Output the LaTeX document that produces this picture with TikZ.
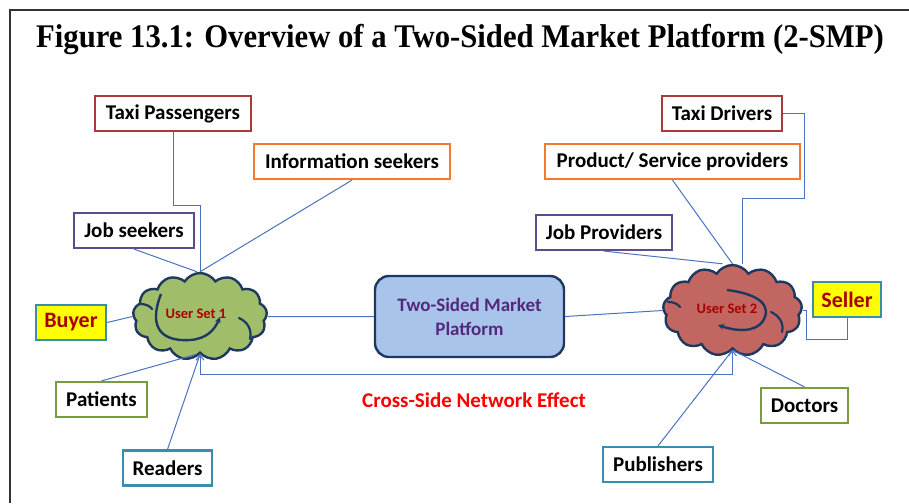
\documentclass[tikz,border=0pt]{standalone}
\usepackage{fontspec}
\setmainfont{Carlito}
\newfontfamily\titlefont{Liberation Serif}
\usetikzlibrary{shapes.symbols,arrows.meta,calc}
\definecolor{cred}{HTML}{A83A3A}
\definecolor{corange}{HTML}{F47A30}
\definecolor{cpurple}{HTML}{5F4A8C}
\definecolor{cteal}{HTML}{3A8DAE}
\definecolor{cgreen}{HTML}{7A9B3E}
\definecolor{cyel}{HTML}{FFFF00}
\definecolor{ctxtred}{HTML}{A80000}
\definecolor{cgreenfill}{HTML}{A0BE6A}
\definecolor{credfill}{HTML}{C26662}
\definecolor{cnavy}{HTML}{1F3860}
\definecolor{cplat}{HTML}{A8C4EA}
\definecolor{cplattxt}{HTML}{55287E}
\definecolor{cconn}{HTML}{4A72C0}
\tikzset{
  lbl/.style={draw=#1, line width=2.2pt, fill=white, minimum height=35pt, inner sep=0pt,
    font=\fontsize{21}{23}\selectfont\bfseries, text=black},
  conn/.style={draw=cconn, line width=1pt},
  cloudy/.style={cloud, cloud puffs=13, cloud puff arc=115, aspect=1.55, draw=cnavy,
    line width=2.4pt, fill=#1, inner sep=0pt},
  inarrow/.style={draw=cnavy, line width=2.4pt, -{Stealth[length=6pt,width=6pt]}},
  inarc/.style={draw=cnavy, line width=2.2pt, line cap=round},
  vtip/.style={{Straight Barb[length=5pt,width=8pt]}-{Straight Barb[length=5pt,width=8pt]}}
}
\begin{document}
\begin{tikzpicture}[x=1pt,y=-1pt]
\useasboundingbox (0,0) rectangle (909,503);
\draw[line width=2pt, black!80] (10,503) -- (10,10) -- (909,10);
\node[font=\titlefont\bfseries\fontsize{33}{36}\selectfont] (title) at (460,40)
  {\scalebox{0.93}[1]{Figure 13.1: Overview of a Two-Sided Market Platform (2-SMP)}};

\node[cloudy=cgreenfill, minimum width=134pt, minimum height=87pt] (c1) at (200,316.5) {};
\node[cloudy=credfill, minimum width=139pt, minimum height=91pt] (c2) at (732.5,310.5) {};
\node[rounded corners=14pt, draw=cnavy, line width=2.4pt, fill=cplat, minimum width=189pt,
  minimum height=81pt, align=center, text=cplattxt, font=\fontsize{19}{24}\selectfont\bfseries]
  (P) at (469.5,316.5) {Two-Sided Market\\Platform};

\node[lbl=cred, minimum width=156pt] (TP) at (173,113.5) {Taxi Passengers};
\node[lbl=corange, minimum width=196pt] (IS) at (352,161.5) {Information seekers};
\node[lbl=cpurple, minimum width=120pt] (JS) at (134,230.5) {Job seekers};
\node[lbl=cred, minimum width=120pt] (TD) at (722,113.5) {Taxi Drivers};
\node[lbl=corange, minimum width=255pt] (PS) at (672.5,161.5) {Product/ Service providers};
\node[lbl=cpurple, minimum width=136pt] (JP) at (604,232.5) {Job Providers};
\node[lbl=cteal, minimum width=70pt, fill=cyel, text=ctxtred, font=\fontsize{22}{24}\selectfont\bfseries] (BU) at (71,322.5) {Buyer};
\node[lbl=cgreen, minimum width=91pt] (PA) at (101.5,399.5) {Patients};
\node[lbl=cteal, minimum width=89pt] (RE) at (167.5,468) {Readers};
\node[lbl=cteal, minimum width=68pt, fill=cyel, text=ctxtred, font=\fontsize{22}{24}\selectfont\bfseries] (SE) at (847,299.5) {Seller};
\node[lbl=cgreen, minimum width=87pt] (DO) at (804.5,405.5) {Doctors};
\node[lbl=cteal, minimum width=110pt] (PU) at (658,464.5) {Publishers};

% inner cloud lines
\draw[inarc] (239,318) .. controls (248,322) and (252,330) .. (250,339);
\draw[inarc] (140,304) .. controls (146,304) and (150,306) .. (152,309);
\draw[inarc] (771,312) .. controls (780,316) and (784,324) .. (782,332);
\draw[inarc] (668,302) .. controls (674,302) and (678,304) .. (680,307);
% inner arrows
\draw[inarrow] (161,294) .. controls (150,322) and (156,342) .. (190,340)
  .. controls (207,339) and (215,329) .. (220,317);
\draw[inarrow] (727,290) .. controls (760,294) and (772,306) .. (763,321)
  .. controls (755,333) and (735,331) .. (718,325);
\node[text=ctxtred, font=\fontsize{14.5}{16}\selectfont\bfseries] (u1) at (196,314) {User Set 1};
\node[text=ctxtred, font=\fontsize{14.5}{16}\selectfont\bfseries] (u2) at (727,309) {User Set 2};

% connectors side 1
\draw[conn] (TP.south) -- ++(0,73) -| (c1.north);
\draw[conn] (IS.south) -- (c1.north);
\draw[conn] (JS.south) -- ([xshift=-3pt]c1.north);
\draw[conn] (BU.east) -- (c1.west);
\draw[conn] (c1.east) -- (P.west);
\draw[conn] (P.east) -- (c2.west);
\draw[conn] (PA.north) -- ([xshift=-4pt]c1.south);
\draw[conn] (RE.north) -- (c1.south);
\draw[conn, vtip] (c1.south) -- ++(0,20) -| (c2.south);
% connectors side 2
\draw[conn] (TD.east) -| ++(21,85) -| ([xshift=10pt]c2.north);
\draw[conn] (PS.south) -- (c2.north);
\draw[conn] (JP.south) -- ([xshift=-10pt]c2.north);
\draw[conn] (SE.south) |- ++(-41,21) |- (c2.east);
\draw[conn] (DO.north) -- (c2.south);
\draw[conn] (PU.north) -- (c2.south);

\node[text=red, font=\fontsize{21}{24}\selectfont\bfseries] (cs) at (474,400) {Cross-Side Network Effect};
\end{tikzpicture}
\end{document}
